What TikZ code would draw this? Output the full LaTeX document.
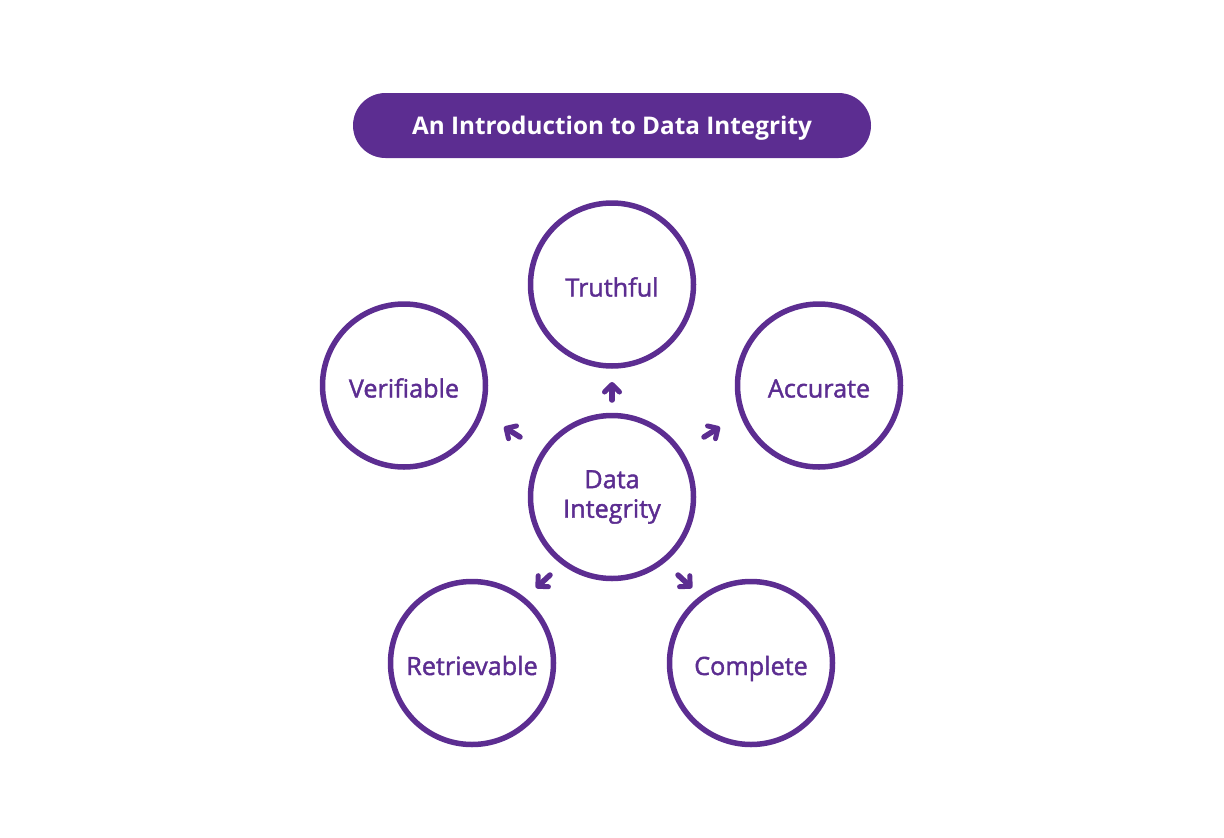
\documentclass[tikz,border=0pt]{standalone}
\usepackage{fontspec}
\setmainfont{Open Sans}
\newfontfamily\semib[FakeBold=1.6]{Open Sans}
\usetikzlibrary{arrows.meta}
\definecolor{ipurple}{HTML}{5C2D91}
\begin{document}
\begin{tikzpicture}[x=1pt,y=-1pt,
  item/.style={circle,draw=ipurple,line width=5.5pt,minimum size=163pt,inner sep=0pt,
    text=ipurple,font=\semib\fontsize{25.2}{29.5}\selectfont,align=center},
  single/.style={text height=24pt,text depth=0pt},
  pill/.style={rounded corners=32.5pt,fill=ipurple,minimum width=518pt,minimum height=65pt,
    text=white,font=\bfseries\fontsize{24.3}{28}\selectfont,text height=18.6pt,text depth=0pt},
  arr/.style={ipurple,line width=5.5pt,line cap=round,
    -{Straight Barb[length=7.5pt,width=15pt,line width=5pt,round]}}]
\useasboundingbox (0,0) rectangle (1224,838);
\node[pill] (title) at (612,125.5) {An Introduction to Data Integrity};
\node[item] (center) at (612,497) {Data\\Integrity};
\node[item,single] (tru) at (612,284.5) {Truthful};
\node[item,single] (ver) at (404,385.5) {Verifiable};
\node[item,single] (acc) at (819,385.5) {Accurate};
\node[item,single] (ret) at (472,663) {Retrievable};
\node[item,single] (com) at (751,663) {Complete};
\coordinate (t1) at (612,400); \coordinate (t2) at (612,382);
\coordinate (v1) at (520,437); \coordinate (v2) at (504,427);
\coordinate (a1) at (704,437); \coordinate (a2) at (720,427);
\coordinate (r1) at (550,575); \coordinate (r2) at (536,588);
\coordinate (c1) at (678,575); \coordinate (c2) at (692,588);
\draw[arr] (t1) -- (t2);
\draw[arr] (v1) -- (v2);
\draw[arr] (a1) -- (a2);
\draw[arr] (r1) -- (r2);
\draw[arr] (c1) -- (c2);
\end{tikzpicture}
\end{document}
